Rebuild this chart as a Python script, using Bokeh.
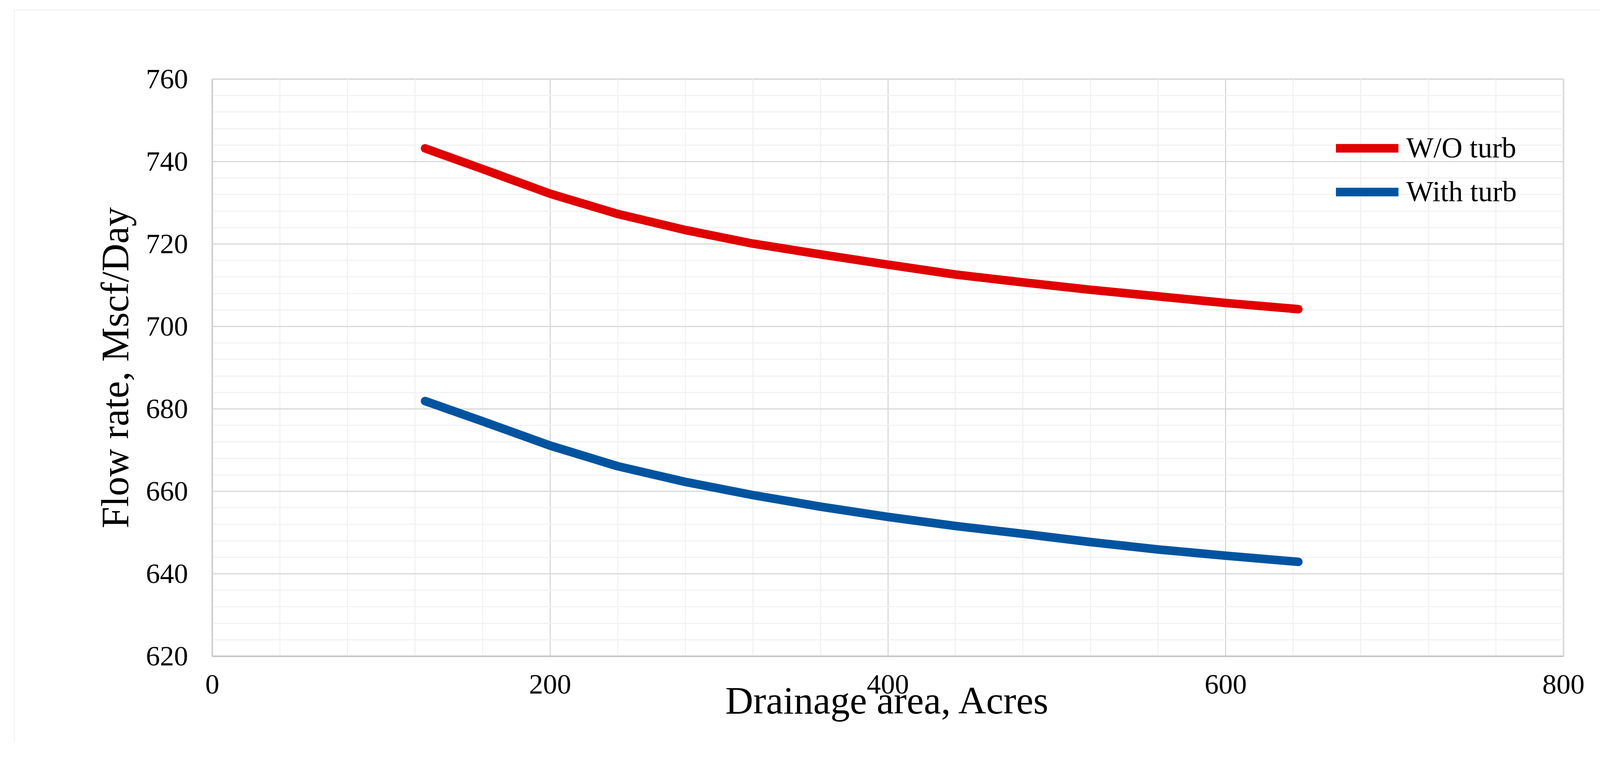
from bokeh.plotting import figure
from bokeh.models import FixedTicker, Legend, LegendItem
from bokeh.embed import file_html
from bokeh.resources import INLINE

# ---- data ----
drainage_area = [126, 160, 200, 240, 280, 320, 360, 400, 440, 480, 520, 560, 600, 643]
flow_wo_turb = [743.2, 738.2, 732.2, 727.3, 723.4, 720.1, 717.5, 715.0, 712.6, 710.7, 708.9, 707.3, 705.7, 704.2]
flow_with_turb = [681.9, 677.0, 671.1, 666.1, 662.3, 659.1, 656.3, 653.8, 651.6, 649.7, 647.7, 645.9, 644.4, 642.9]

series_names = ["W/O turb", "With turb"]
series_colors = ["#e00000", "#00549f"]

x_major = [0, 200, 400, 600, 800]
x_minor = [v for v in range(0, 801, 40) if v not in x_major]
y_major = [620, 640, 660, 680, 700, 720, 740, 760]
y_minor = [v for v in range(620, 761, 4) if v not in y_major]

x_title = "Drainage area, Acres"
y_title = "Flow rate, Mscf/Day"

FONT = "Liberation Serif"

p = figure(frame_width=3459, frame_height=1477, x_range=(0, 800), y_range=(620, 760),
           output_backend="svg", toolbar_location=None,
           min_border_left=507, min_border_right=196,
           min_border_top=177, min_border_bottom=219)

# chart-area border drawn around the whole figure element
p.styles = {"outline": "5px solid #d9d9d9", "outline-offset": "-5px",
            "margin-left": "36px", "margin-top": "25px"}

p.background_fill_color = "white"
p.border_fill_color = "white"
p.outline_line_color = "#d9d9d9"
p.outline_line_width = 4

# grids
p.xaxis.ticker = FixedTicker(ticks=x_major, minor_ticks=x_minor)
p.yaxis.ticker = FixedTicker(ticks=y_major, minor_ticks=y_minor)
for g in (p.xgrid[0], p.ygrid[0]):
    g.grid_line_color = "#d9d9d9"
    g.grid_line_width = 3
    g.minor_grid_line_color = "#f2f2f2"
    g.minor_grid_line_width = 3

# axes
for ax in (p.xaxis[0], p.yaxis[0]):
    ax.major_tick_out = 0
    ax.major_tick_in = 0
    ax.minor_tick_out = 0
    ax.minor_tick_in = 0
    ax.major_label_text_font = FONT
    ax.major_label_text_font_size = "72px"
    ax.major_label_text_color = "black"
    ax.axis_label_text_font = FONT
    ax.axis_label_text_font_size = "99px"
    ax.axis_label_text_font_style = "normal"
    ax.axis_label_text_color = "black"
    ax.axis_line_width = 3

p.xaxis.axis_line_color = "#bfbfbf"
p.yaxis.axis_line_color = "#cccccc"
p.xaxis.axis_label = x_title
p.yaxis.axis_label = y_title
p.xaxis.major_label_standoff = 48
p.yaxis.major_label_standoff = 62
p.xaxis.axis_label_standoff = -40
p.yaxis.axis_label_standoff = 22

r1 = p.line(drainage_area, flow_wo_turb, line_color=series_colors[0], line_width=22, line_cap="round", line_join="round")
r2 = p.line(drainage_area, flow_with_turb, line_color=series_colors[1], line_width=22, line_cap="round", line_join="round")

legend = Legend(items=[LegendItem(label=series_names[0], renderers=[r1]),
                       LegendItem(label=series_names[1], renderers=[r2])],
                location=(2877, 1146), orientation="vertical",
                glyph_width=160, glyph_height=80, label_height=80,
                label_standoff=20, spacing=27, padding=0, margin=0,
                label_text_font=FONT, label_text_font_size="74px",
                label_text_color="black",
                background_fill_alpha=0, border_line_alpha=0)
p.add_layout(legend, "center")

open("out.html", "w").write(file_html(p, INLINE))
